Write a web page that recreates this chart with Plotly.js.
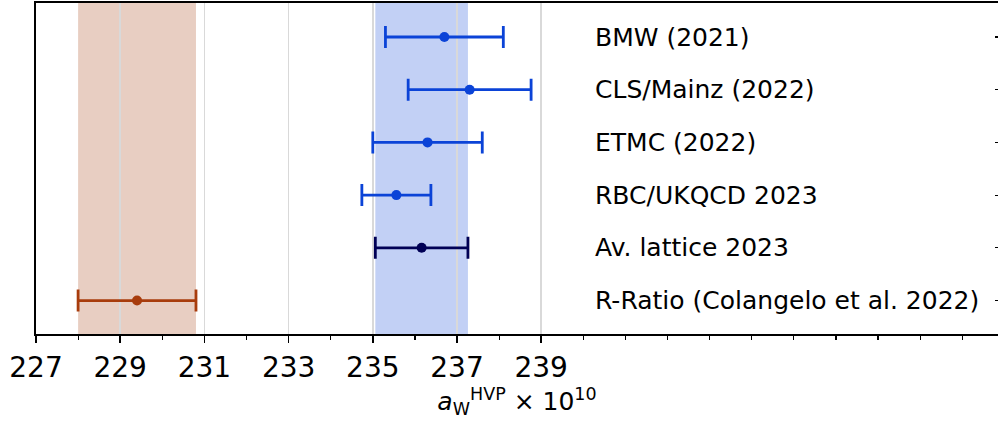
<!DOCTYPE html>
<html>
<head>
<meta charset="utf-8">
<script src="https://cdn.plot.ly/plotly-3.0.1.min.js"></script>
<style>html,body{margin:0;padding:0;background:#fff;}#chart{width:998px;height:421px;}</style>
</head>
<body>
<div id="chart"></div>
<script>
// ---- data ----
const labels = ["BMW (2021)", "CLS/Mainz (2022)", "ETMC (2022)", "RBC/UKQCD 2023", "Av. lattice 2023", "R-Ratio (Colangelo et al. 2022)"];
const values = [236.7, 237.3, 236.3, 235.56, 236.16, 229.4];
const errors = [1.4, 1.46, 1.3, 0.82, 1.1, 1.4];
const rows = [5, 4, 3, 2, 1, 0];
const colors = ["#0b43d7", "#0b43d7", "#0b43d7", "#0b43d7", "#000055", "#a83c0c"];
const bandIndex = [4, 5]; // lattice average band, R-ratio band
const bandColors = ["rgba(11,67,215,0.25)", "rgba(163,59,11,0.25)"];
const majorTicks = [227, 229, 231, 233, 235, 237, 239];
const xRange = [227, 249.85];
const yRange = [-0.635, 5.645];

const font = "DejaVu Sans, sans-serif";

const traces = values.map((v, i) => ({
  type: "scatter",
  mode: "markers",
  x: [v],
  y: [rows[i]],
  marker: {color: colors[i], size: 10},
  error_x: {type: "data", array: [errors[i]], visible: true, color: colors[i], thickness: 2.8, width: 11},
  showlegend: false,
  hoverinfo: "skip"
}));

const shapes = bandIndex.map((k, j) => ({
  type: "rect", layer: "between",
  xref: "x", yref: "paper",
  x0: values[k] - errors[k], x1: values[k] + errors[k],
  y0: 0, y1: 1,
  fillcolor: bandColors[j], line: {width: 0}
}));

const annotations = labels.map((t, i) => ({
  x: 240.22, y: rows[i], xref: "x", yref: "y",
  text: t, showarrow: false, xanchor: "left", yanchor: "middle",
  font: {family: font, size: 25, color: "#000"}
}));

const layout = {
  width: 998, height: 421,
  margin: {l: 36, r: 0, t: 3, b: 87, pad: 0},
  paper_bgcolor: "#fff", plot_bgcolor: "#fff",
  font: {family: font, color: "#000"},
  xaxis: {
    range: xRange, tickmode: "array", tickvals: majorTicks,
    ticks: "outside", ticklen: 7, tickwidth: 1.5, tickcolor: "#000",
    tickfont: {family: font, size: 28, color: "#000"},
    showgrid: true, gridcolor: "#d9d9d9", gridwidth: 1.6,
    zeroline: false,
    showline: true, linecolor: "#000", linewidth: 2, mirror: true,
    minor: {tickmode: "linear", tick0: 227, dtick: 1, ticks: "outside", ticklen: 4, tickwidth: 1.2, tickcolor: "#000", showgrid: false},
    title: {text: "<i>a</i><sub>W</sub><sup>HVP</sup> × 10<sup>10</sup>", font: {family: font, size: 25, color: "#000"}, standoff: 8},
    fixedrange: true
  },
  yaxis: {
    range: yRange, showgrid: false, zeroline: false,
    showticklabels: false, ticks: "",
    showline: true, linecolor: "#000", linewidth: 2, mirror: false,
    fixedrange: true
  },
  yaxis2: {
    overlaying: "y", side: "right", range: yRange,
    tickmode: "array", tickvals: rows, ticks: "inside", ticklen: 3, tickwidth: 1.2, tickcolor: "#000",
    showticklabels: false, showgrid: false, zeroline: false, showline: false,
    fixedrange: true
  },
  shapes: shapes,
  annotations: annotations
};

// invisible helper trace so the right-hand tick axis is drawn
traces.push({type: "scatter", x: [values[0]], y: [rows[0]], yaxis: "y2", mode: "markers", marker: {opacity: 0}, showlegend: false, hoverinfo: "skip"});

Plotly.newPlot("chart", traces, layout, {displayModeBar: false, staticPlot: true});
</script>
</body>
</html>
